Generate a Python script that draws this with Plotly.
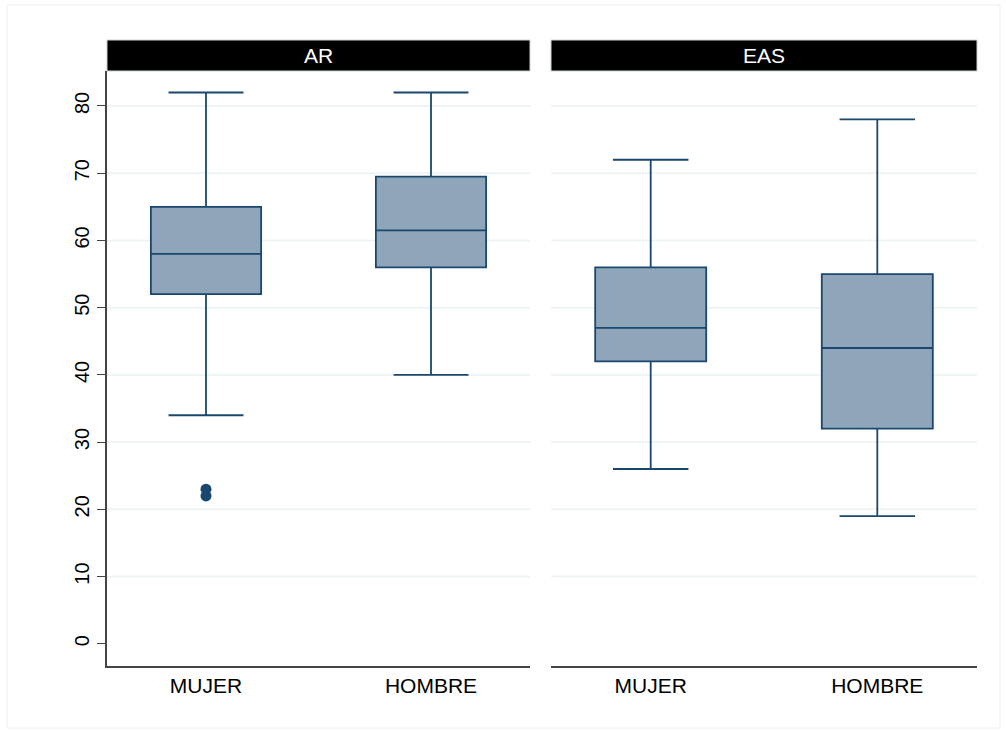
import plotly.graph_objects as go

panels = ["AR", "EAS"]
categories = ["MUJER", "HOMBRE"]
lower = {"AR": [34, 40], "EAS": [26, 19]}
q1 = {"AR": [52, 56], "EAS": [42, 32]}
median = {"AR": [58, 61.5], "EAS": [47, 44]}
q3 = {"AR": [65, 69.5], "EAS": [56, 55]}
upper = {"AR": [82, 82], "EAS": [72, 78]}
outlier_cat = {"AR": ["MUJER", "MUJER"], "EAS": []}
outlier_val = {"AR": [23, 22], "EAS": []}
y_ticks = [0, 10, 20, 30, 40, 50, 60, 70, 80]

W, H = 1006, 731
LINE = "#1a476f"
FILL = "#8fa6ba"
GRID = "#eaf2f3"
FONT = "Liberation Sans, Arial, sans-serif"

xdomains = [[107 / W, 530 / W], [551 / W, 977 / W]]
ydom = [1 - 666 / H, 1 - 71 / H]

fig = go.Figure()
shapes = []
annotations = []
for i, p in enumerate(panels):
    xa = "x" if i == 0 else "x2"
    ya = "y" if i == 0 else "y2"
    for j, c in enumerate(categories):
        fig.add_trace(go.Box(
            x=[c], q1=[q1[p][j]], median=[median[p][j]], q3=[q3[p][j]],
            lowerfence=[lower[p][j]], upperfence=[upper[p][j]],
            xaxis=xa, yaxis=ya, width=0.49, whiskerwidth=0.68,
            line=dict(color=LINE, width=1.8), fillcolor=FILL,
            boxpoints=False, showlegend=False, hoverinfo="skip",
        ))
    if outlier_val[p]:
        fig.add_trace(go.Scatter(
            x=outlier_cat[p], y=outlier_val[p], mode="markers",
            marker=dict(color=LINE, size=11), xaxis=xa, yaxis=ya,
            showlegend=False, hoverinfo="skip",
        ))
    xref_dom = ("x" if i == 0 else "x2") + " domain"
    for t in y_ticks[1:]:
        shapes.append(dict(type="line", xref=xref_dom, yref=ya, x0=0, x1=1,
                           y0=t, y1=t, line=dict(color=GRID, width=1.5), layer="below"))
    # strip
    shapes.append(dict(type="rect", xref="paper", yref="paper",
                       x0=xdomains[i][0], x1=xdomains[i][1],
                       y0=1 - 71 / H, y1=1 - 40 / H,
                       fillcolor="black", line=dict(color="#c9d3d6", width=1)))
    annotations.append(dict(text=p, xref="paper", yref="paper",
                            x=(xdomains[i][0] + xdomains[i][1]) / 2,
                            y=1 - 55.5 / H, showarrow=False,
                            font=dict(color="white", size=21, family=FONT),
                            xanchor="center", yanchor="middle"))

# outer frame
shapes.append(dict(type="rect", xref="paper", yref="paper",
                   x0=7 / W, x1=1000 / W, y0=1 - 728 / H, y1=1 - 5 / H,
                   line=dict(color="#eeeeee", width=1), fillcolor="rgba(0,0,0,0)",
                   layer="below"))

yrange = [-3.3, 85.2]
fig.update_layout(
    width=W, height=H,
    margin=dict(l=0, r=0, t=0, b=0),
    paper_bgcolor="white", plot_bgcolor="white",
    font=dict(family=FONT, color="black"),
    shapes=shapes, annotations=annotations,
    xaxis=dict(domain=xdomains[0], anchor="y", type="category",
               categoryorder="array", categoryarray=categories,
               range=[-0.44, 1.44], showline=True, linecolor="#444444", linewidth=1.5,
               ticks="", showgrid=False, zeroline=False,
               tickfont=dict(size=21, family=FONT)),
    xaxis2=dict(domain=xdomains[1], anchor="y2", type="category",
                categoryorder="array", categoryarray=categories,
                range=[-0.44, 1.44], showline=True, linecolor="#444444", linewidth=1.5,
                ticks="", showgrid=False, zeroline=False,
                tickfont=dict(size=21, family=FONT)),
    yaxis=dict(domain=ydom, anchor="x", range=yrange, tickvals=y_ticks,
               ticktext=[str(t) for t in y_ticks], tickangle=-90,
               showline=True, linecolor="#444444", linewidth=1.5,
               ticks="outside", ticklen=8, tickcolor="#444444",
               showgrid=False, zeroline=False,
               tickfont=dict(size=20, family=FONT)),
    yaxis2=dict(domain=ydom, anchor="x2", range=yrange, matches="y",
                showticklabels=False, showline=False, ticks="",
                showgrid=False, zeroline=False),
)

fig.write_html("out.html", config={"displayModeBar": False},
               post_script="document.body.style.margin='0';")
